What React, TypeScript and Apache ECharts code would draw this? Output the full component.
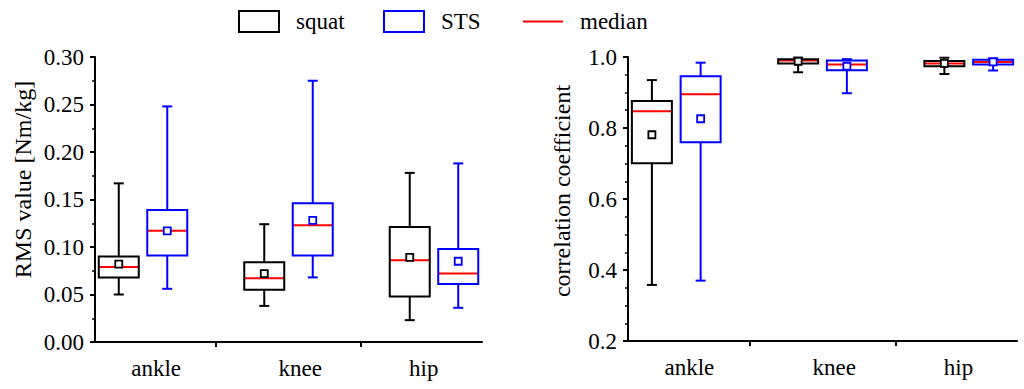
import React, { useEffect, useRef } from "react";
import * as echarts from "echarts";

const joints = ["ankle", "knee", "hip"];
// [min, Q1, median, Q3, max, mean]
const rmsSquat = [
  [0.050, 0.068, 0.079, 0.090, 0.167, 0.082],
  [0.038, 0.055, 0.067, 0.084, 0.124, 0.072],
  [0.023, 0.048, 0.086, 0.121, 0.178, 0.089],
];
const rmsSTS = [
  [0.056, 0.091, 0.117, 0.139, 0.248, 0.117],
  [0.068, 0.091, 0.123, 0.146, 0.275, 0.128],
  [0.036, 0.061, 0.072, 0.098, 0.188, 0.085],
];
const corrSquat = [
  [0.358, 0.701, 0.847, 0.876, 0.935, 0.781],
  [0.957, 0.982, 0.990, 0.994, 0.998, 0.988],
  [0.952, 0.974, 0.982, 0.989, 0.998, 0.982],
];
const corrSTS = [
  [0.370, 0.760, 0.895, 0.946, 0.984, 0.826],
  [0.898, 0.963, 0.979, 0.990, 0.994, 0.974],
  [0.962, 0.979, 0.986, 0.992, 0.996, 0.986],
];
const rmsTicks = [0, 0.3, 0.05];
const corrTicks = [0.2, 1.0, 0.2];

const FONT = "Liberation Serif";
const BLUE = "#0000ff";
const RED = "#ff0000";

function toItems(stats: number[][], offset: number) {
  return stats.map((s, i) => [i + 1 + offset, ...s]);
}

function makeRender(color: string) {
  return (params: any, api: any) => {
    const x = api.value(0);
    const pMin = api.coord([x, api.value(1)]);
    const pQ1 = api.coord([x, api.value(2)]);
    const pMed = api.coord([x, api.value(3)]);
    const pQ3 = api.coord([x, api.value(4)]);
    const pMax = api.coord([x, api.value(5)]);
    const pMean = api.coord([x, api.value(6)]);
    const cx = pMin[0];
    const hw = 20;
    const cw = 5;
    const ms = 3.5;
    const ls = { stroke: color, lineWidth: 2 };
    return {
      type: "group",
      children: [
        { type: "line", shape: { x1: cx, y1: pMax[1], x2: cx, y2: pQ3[1] }, style: ls },
        { type: "line", shape: { x1: cx, y1: pQ1[1], x2: cx, y2: pMin[1] }, style: ls },
        { type: "line", shape: { x1: cx - cw, y1: pMax[1], x2: cx + cw, y2: pMax[1] }, style: ls },
        { type: "line", shape: { x1: cx - cw, y1: pMin[1], x2: cx + cw, y2: pMin[1] }, style: ls },
        { type: "line", shape: { x1: cx - hw, y1: pMed[1], x2: cx + hw, y2: pMed[1] }, style: { stroke: RED, lineWidth: 2 } },
        { type: "rect", shape: { x: cx - hw, y: pQ3[1], width: 2 * hw, height: pQ1[1] - pQ3[1] }, style: { fill: "none", stroke: color, lineWidth: 2 } },
        { type: "rect", shape: { x: cx - ms, y: pMean[1] - ms, width: 2 * ms, height: 2 * ms }, style: { fill: "#fff", stroke: color, lineWidth: 1.8 } },
      ],
    };
  };
}

export default function App() {
  const ref = useRef<HTMLDivElement>(null);
  useEffect(() => {
    if (!ref.current) return;
    const chart = echarts.init(ref.current, null, { renderer: "svg" });
    const textBase = { fontFamily: FONT, color: "#000" };
    const xAxisBase = (gridIndex: number) => ({
      type: "value",
      gridIndex,
      min: 0.67,
      max: 3.33,
      axisLine: { show: true, onZero: false, lineStyle: { color: "#000", width: 2 } },
      axisTick: { show: true, customValues: [1.5, 2.5], length: 5, lineStyle: { color: "#000", width: 2 } },
      axisLabel: {
        show: true,
        customValues: [1.09, 2.08, 2.93],
        formatter: (v: number) => joints[Math.round(v) - 1] || "",
        ...textBase,
        fontSize: 23,
        margin: 15,
      },
      splitLine: { show: false },
    });
    const yAxisBase = (gridIndex: number, t: number[], digits: number, minorSplit: number, name: string, nameGap: number, pad: number) => ({
      type: "value",
      gridIndex,
      min: t[0],
      max: t[1],
      interval: t[2],
      name,
      nameLocation: "middle",
      nameGap,
      nameTextStyle: { ...textBase, fontSize: 24, padding: [0, 0, 0, pad] },
      axisLine: { show: true, onZero: false, lineStyle: { color: "#000", width: 2 } },
      axisTick: { show: true, length: 5, lineStyle: { color: "#000", width: 2 } },
      minorTick: { show: true, splitNumber: minorSplit, length: 3, lineStyle: { color: "#000", width: 1.5 } },
      axisLabel: { ...textBase, fontSize: 23, margin: 11, formatter: (v: number) => v.toFixed(digits) },
      splitLine: { show: false },
      minorSplitLine: { show: false },
    });
    const legendBase = {
      top: 5,
      itemWidth: 40,
      itemHeight: 21,
      textStyle: { ...textBase, fontSize: 23, padding: [0, 0, 0, 12] },
    };
    chart.setOption({
      animation: false,
      backgroundColor: "#fff",
      grid: [
        { left: 95, top: 57, width: 387, height: 285 },
        { left: 628, top: 57, width: 389, height: 284 },
      ],
      legend: [
        { ...legendBase, left: 233, data: [{ name: "squat", icon: "rect", itemStyle: { color: "transparent", borderColor: "#000", borderWidth: 2 } }] },
        { ...legendBase, left: 378, data: [{ name: "STS", icon: "rect", itemStyle: { color: "transparent", borderColor: BLUE, borderWidth: 2 } }] },
        { ...legendBase, left: 517, data: [{ name: "median", itemStyle: { color: "transparent", borderColor: "transparent", borderWidth: 0, opacity: 0 } }] },
      ],
      xAxis: [xAxisBase(0), xAxisBase(1)],
      yAxis: [
        yAxisBase(0, rmsTicks, 2, 2, "RMS value [Nm/kg]", 60, 40),
        yAxisBase(1, corrTicks, 1, 4, "correlation coefficient", 54, 16),
      ],
      series: [
        { type: "custom", name: "squat", xAxisIndex: 0, yAxisIndex: 0, itemStyle: { color: "#000" }, renderItem: makeRender("#000"), data: toItems(rmsSquat, -1 / 6), encode: { x: 0, y: [1, 2, 3, 4, 5, 6] } },
        { type: "custom", name: "STS", xAxisIndex: 0, yAxisIndex: 0, itemStyle: { color: BLUE }, renderItem: makeRender(BLUE), data: toItems(rmsSTS, 1 / 6), encode: { x: 0, y: [1, 2, 3, 4, 5, 6] } },
        { type: "custom", name: "squat", xAxisIndex: 1, yAxisIndex: 1, itemStyle: { color: "#000" }, renderItem: makeRender("#000"), data: toItems(corrSquat, -1 / 6), encode: { x: 0, y: [1, 2, 3, 4, 5, 6] } },
        { type: "custom", name: "STS", xAxisIndex: 1, yAxisIndex: 1, itemStyle: { color: BLUE }, renderItem: makeRender(BLUE), data: toItems(corrSTS, 1 / 6), encode: { x: 0, y: [1, 2, 3, 4, 5, 6] } },
        { type: "line", name: "median", xAxisIndex: 0, yAxisIndex: 0, data: [], symbol: "none", itemStyle: { color: RED }, lineStyle: { color: RED, width: 2 } },
      ],
    });
    return () => chart.dispose();
  }, []);
  return <div ref={ref} style={{ width: 1024, height: 389, position: "absolute", left: 0, top: 0 }} />;
}
